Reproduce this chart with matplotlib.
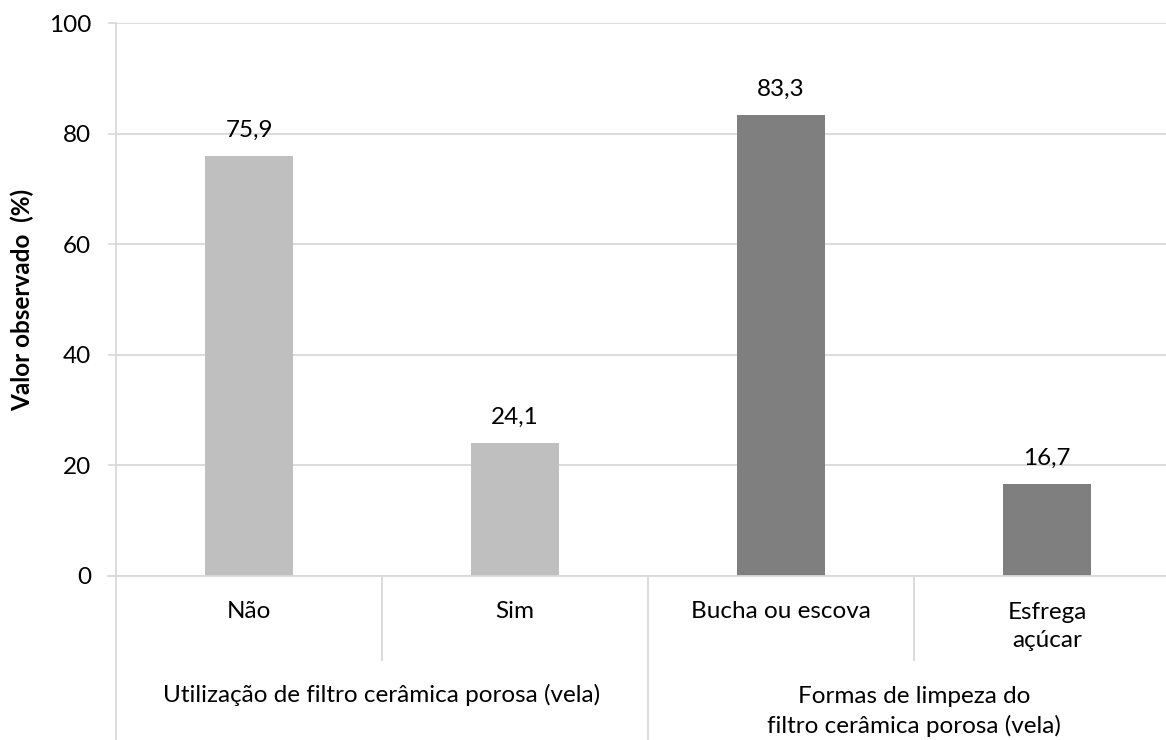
import matplotlib.pyplot as plt
import matplotlib.transforms as mtransforms

# survey results, percent
categories = ['Não', 'Sim', 'Bucha ou escova', 'Esfrega\naçúcar']
values = [75.9, 24.1, 83.3, 16.7]
groups = ['Utilização de filtro cerâmica porosa (vela)',
          'Formas de limpeza do\nfiltro cerâmica porosa (vela)']
group_of = [0, 0, 1, 1]
group_colors = ['#BFBFBF', '#7F7F7F']
yticks = [0, 20, 40, 60, 80, 100]

plt.rcParams['font.family'] = ['Lato', 'DejaVu Sans']
grid_c = '#D9D9D9'
fs = 17.5

fig = plt.figure(figsize=(11.66, 7.40), dpi=100)
# axes run a bit past the right edge of the figure
ax = fig.add_axes([116 / 1166, 164 / 740, 1064 / 1166, 553 / 740])

x = [i + 0.5 for i in range(len(values))]
colors = [group_colors[g] for g in group_of]
bars = ax.bar(x, values, width=0.33, color=colors, zorder=3)
for xi, v in zip(x, values):
    ax.annotate(f'{v:.1f}'.replace('.', ','), (xi, v), xytext=(0, 18.5),
                textcoords='offset points', ha='center', va='center',
                fontsize=fs)

ax.set_xlim(0, len(values))
ax.set_ylim(0, 100)
ax.set_yticks(yticks)
ax.tick_params(axis='y', length=6, width=1.2, color=grid_c, pad=12,
               labelsize=fs)
ax.set_xticks([])
ax.yaxis.grid(True, color=grid_c, linewidth=1.3, zorder=0)
for s in ['top', 'right', 'bottom']:
    ax.spines[s].set_visible(False)
ax.spines['left'].set_color(grid_c)
ax.spines['left'].set_linewidth(1.3)
ax.set_ylabel('Valor observado  (%)', fontsize=fs, fontweight='bold')
ax.yaxis.set_label_coords(-0.077, 0.5)

# category axis: baseline, separators and labels below the plot
tr = mtransforms.blended_transform_factory(ax.transData, ax.transAxes)
ax.plot([-0.03, len(values)], [0, 0], transform=tr, color=grid_c,
        lw=1.3, clip_on=False, zorder=4)
ax.plot([0, 0], [0, -0.30], transform=tr, color=grid_c, lw=1.3, clip_on=False)
for b in range(1, len(values)):
    low = -0.30 if group_of[b] != group_of[b - 1] else -0.152
    ax.plot([b, b], [0, low], transform=tr, color=grid_c, lw=1.3,
            clip_on=False)

for xi, lab in zip(x, categories):
    ax.text(xi, -0.0633 if '\n' not in lab else -0.092, lab, transform=tr,
            ha='center', va='center', fontsize=fs, linespacing=1.4)

group_y = [-0.2152, -0.245]
for g, lab in enumerate(groups):
    members = [xi for xi, gi in zip(x, group_of) if gi == g]
    ax.text(sum(members) / len(members), group_y[g], lab, transform=tr,
            ha='center', va='center', fontsize=fs, linespacing=1.4)

fig.savefig('out.png', dpi=100)
